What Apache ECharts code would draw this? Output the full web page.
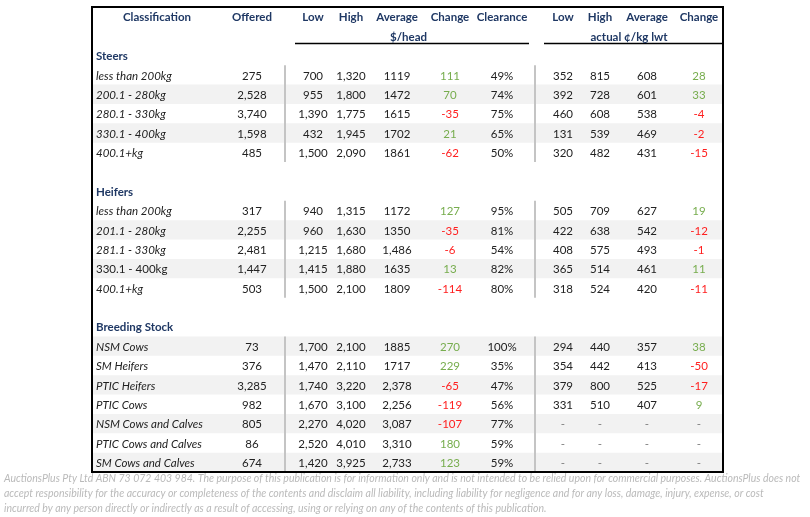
<!DOCTYPE html>
<html><head><meta charset="utf-8">
<script src="https://cdn.jsdelivr.net/npm/echarts@6/dist/echarts.min.js"></script>
<style>html,body{margin:0;padding:0;background:#fff}#c{width:810px;height:517px}</style>
</head><body><div id="c"></div>
<script>
// ---------- DATA ----------
const headers = ['Classification','Offered','Low','High','Average','Change','Clearance','Low','High','Average','Change'];
const unitHead = '$/head';
const unitKg = 'actual ¢/kg lwt';
const sections = ['Steers','Heifers','Breeding Stock'];

const steerClasses = ['less than 200kg','200.1 - 280kg','280.1 - 330kg','330.1 - 400kg','400.1+kg'];
const steerOffered = ['275','2,528','3,740','1,598','485'];
const steerLow = ['700','955','1,390','432','1,500'];
const steerHigh = ['1,320','1,800','1,775','1,945','2,090'];
const steerAvg = ['1119','1472','1615','1702','1861'];
const steerChange = [111,70,-35,21,-62];
const steerClearance = ['49%','74%','75%','65%','50%'];
const steerKgLow = ['352','392','460','131','320'];
const steerKgHigh = ['815','728','608','539','482'];
const steerKgAvg = ['608','601','538','469','431'];
const steerKgChange = [28,33,-4,-2,-15];

const heiferClasses = ['less than 200kg','201.1 - 280kg','281.1 - 330kg','330.1 - 400kg','400.1+kg'];
const heiferOffered = ['317','2,255','2,481','1,447','503'];
const heiferLow = ['940','960','1,215','1,415','1,500'];
const heiferHigh = ['1,315','1,630','1,680','1,880','2,100'];
const heiferAvg = ['1172','1350','1,486','1635','1809'];
const heiferChange = [127,-35,-6,13,-114];
const heiferClearance = ['95%','81%','54%','82%','80%'];
const heiferKgLow = ['505','422','408','365','318'];
const heiferKgHigh = ['709','638','575','514','524'];
const heiferKgAvg = ['627','542','493','461','420'];
const heiferKgChange = [19,-12,-1,11,-11];

const breedClasses = ['NSM Cows','SM Heifers','PTIC Heifers','PTIC Cows','NSM Cows and Calves','PTIC Cows and Calves','SM Cows and Calves'];
const breedOffered = ['73','376','3,285','982','805','86','674'];
const breedLow = ['1,700','1,470','1,740','1,670','2,270','2,520','1,420'];
const breedHigh = ['2,100','2,110','3,220','3,100','4,020','4,010','3,925'];
const breedAvg = ['1885','1717','2,378','2,256','3,087','3,310','2,733'];
const breedChange = [270,229,-65,-119,-107,180,123];
const breedClearance = ['100%','35%','47%','56%','77%','59%','59%'];
const breedKgLow = ['294','354','379','331',null,null,null];
const breedKgHigh = ['440','442','800','510',null,null,null];
const breedKgAvg = ['357','413','525','407',null,null,null];
const breedKgChange = [38,-50,-17,9,null,null,null];

const footnote = [
 'AuctionsPlus Pty Ltd ABN 73 072 403 984. The purpose of this publication is for information only and is not intended to be relied upon for commercial purposes. AuctionsPlus does not',
 'accept responsibility for the accuracy or completeness of the contents and disclaim all liability, including liability for negligence and for any loss, damage, injury, expense, or cost',
 'incurred by any person directly or indirectly as a result of accessing, using or relying on any of the contents of this publication.'
];

// ---------- LAYOUT ----------
const colX = [65,160,221,259,305,358,410,471,508,555,607]; // column centres (x-axis units = px inside table)
const sepX = [193, 443];
const labelX = 4;
const NAVY = '#1f3864', TXT = '#222222', GREEN = '#77ad4e', RED = '#ff1f1f';
const FF = 'Lato, "Open Sans", sans-serif';
const FS = 11.5;

// row plan
const rows = [];
rows.push({t:'head'}); rows.push({t:'sub'});
function addSection(name, cls, off, lo, hi, avg, ch, clr, klo, khi, kavg, kch, upright){
  rows.push({t:'section', name});
  const start = rows.length;
  cls.forEach((c,i)=>rows.push({t:'data', cls:c, italic: !(upright||[]).includes(i), shade: i%2===1,
    vals:[off[i],lo[i],hi[i],avg[i],ch[i],clr[i],klo[i],khi[i],kavg[i],kch[i]]}));
  return [start, rows.length-1];
}
const spans = [];
spans.push(addSection(sections[0], steerClasses, steerOffered, steerLow, steerHigh, steerAvg, steerChange, steerClearance, steerKgLow, steerKgHigh, steerKgAvg, steerKgChange));
rows.push({t:'blank'});
spans.push(addSection(sections[1], heiferClasses, heiferOffered, heiferLow, heiferHigh, heiferAvg, heiferChange, heiferClearance, heiferKgLow, heiferKgHigh, heiferKgAvg, heiferKgChange, [3]));
rows.push({t:'blank'});
spans.push(addSection(sections[2], breedClasses, breedOffered, breedLow, breedHigh, breedAvg, breedChange, breedClearance, breedKgLow, breedKgHigh, breedKgAvg, breedKgChange));
{ const [s,e] = spans[2]; for(let r=s;r<=e;r++) rows[r].shade = ((r-s)%2===0); }

// ---------- TEXT ITEMS ----------
const items = [];
function fmt(v){ if(v===null) return '-'; if(typeof v==='number') return String(v); return v; }
rows.forEach((r,ri)=>{
  if(r.t==='head'){
    headers.forEach((h,ci)=>items.push({x:colX[ci], y:ri, text:h, color:NAVY, weight:'bold', align:'center'}));
  } else if(r.t==='sub'){
    items.push({x:(colX[2]+colX[6])/2+1, y:ri, text:unitHead, color:NAVY, weight:'bold', align:'center'});
    items.push({x:(colX[7]+colX[10])/2-2, y:ri, text:unitKg, color:NAVY, weight:'bold', align:'center'});
  } else if(r.t==='section'){
    items.push({x:labelX, y:ri, text:r.name, color:NAVY, weight:'bold', align:'left'});
  } else if(r.t==='data'){
    items.push({x:labelX, y:ri, text:r.cls, color:TXT, style:r.italic?'italic':'normal', align:'left'});
    r.vals.forEach((v,k)=>{
      let color = TXT;
      if((k===4||k===9) && typeof v==='number') color = v<0?RED:GREEN;
      if(v===null) color = '#7f7f7f';
      items.push({x:colX[k+1], y:ri, text:fmt(v), color, align:'center'});
    });
  }
});
const shadeRows = rows.map((r,i)=>r.shade?i:-1).filter(i=>i>=0);

const chart = echarts.init(document.getElementById('c'), null, {renderer:'canvas'});
chart.setOption({
  animation:false,
  backgroundColor:'#fff',
  grid:{left:92, right:87, top:7, height:465, show:true, borderColor:'#000', borderWidth:2, backgroundColor:'transparent', z:10},
  xAxis:{type:'value', min:0, max:631, show:false},
  yAxis:{type:'category', data:rows.map((r,i)=>'r'+i), inverse:true, show:false},
  series:[
    { type:'custom', z:1, silent:true,
      data: shadeRows.map(r=>[0,r]),
      renderItem(params, api){
        const cs = params.coordSys; const p = api.coord([0, api.value(1)]); const h = api.size([0,1])[1];
        return {type:'rect', shape:{x:cs.x+1, y:p[1]-h/2, width:cs.width-2, height:h}, style:{fill:'#f2f2f2'}};
      }},
    { type:'custom', z:2, silent:true,
      data: spans.flatMap(s=>sepX.map(x=>[x, s[0], s[1]])),
      renderItem(params, api){
        const a = api.coord([api.value(0), api.value(1)]); const b = api.coord([api.value(0), api.value(2)]); const h = api.size([0,1])[1];
        return {type:'line', shape:{x1:a[0], y1:a[1]-h/2, x2:b[0], y2:b[1]+h/2}, style:{stroke:'#c4c4c4', lineWidth:2}};
      }},
    { type:'custom', z:2, silent:true,
      data: [[colX[2]-18, colX[6]+27, 1],[colX[7]-19, 631, 1]],
      renderItem(params, api){
        const a = api.coord([api.value(0), api.value(2)]); const b = api.coord([api.value(1), api.value(2)]); const h = api.size([0,1])[1];
        return {type:'line', shape:{x1:a[0], y1:a[1]+h*0.38, x2:b[0], y2:b[1]+h*0.38}, style:{stroke:'#000', lineWidth:1.5}};
      }},
    { type:'custom', z:3, silent:true,
      data: items.map(it=>[it.x, it.y]),
      renderItem(params, api){
        const it = items[params.dataIndex]; const p = api.coord([api.value(0), api.value(1)]);
        return {type:'text', x:p[0], y:p[1]+1, style:{text:it.text, fill:it.color, fontFamily:FF, fontSize:FS,
          fontWeight:it.weight||'normal', fontStyle:it.style||'normal', align:it.align, verticalAlign:'middle'}};
      }}
  ],
  graphic: footnote.map((t,i)=>({type:'text', left:4, top:473+i*15, style:{text:t, fill:'#bababa', font:'italic 10.5px Lato, "Open Sans", sans-serif'}}))
});
</script></body></html>
